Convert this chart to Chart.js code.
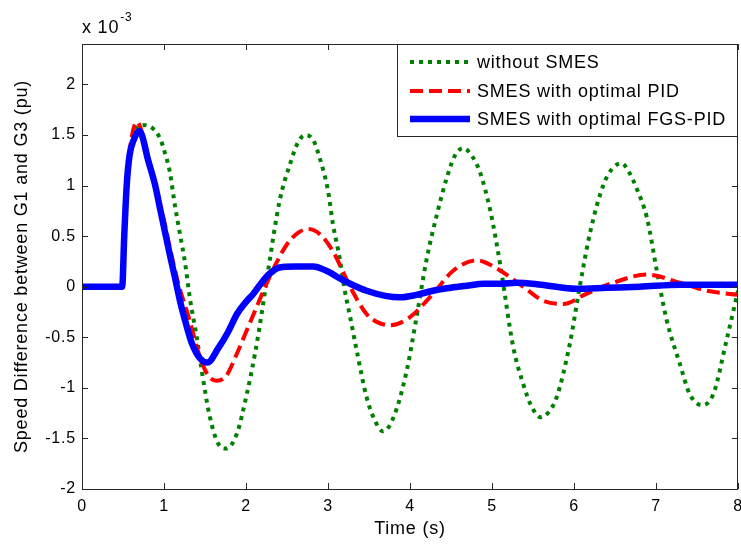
<!DOCTYPE html>
<html>
<head>
<meta charset="utf-8">
<script src="https://cdn.jsdelivr.net/npm/chart.js@4.4.1/dist/chart.umd.min.js"></script>
<style>
  html, body { margin: 0; padding: 0; background: #fff; }
  canvas { display: block; }
</style>
</head>
<body>
<canvas id="c" width="741" height="545"></canvas>
<script>
// Speed difference between G1 and G3 (x 10^-3 pu) after the disturbance

const timeNoSmes = [0, 0.49, 0.52, 0.56, 0.62, 0.72, 0.81, 0.95, 1.016, 1.07, 1.134, 1.195, 1.256, 1.317, 1.40, 1.46, 1.56, 1.66, 1.76, 1.89, 2.01, 2.11, 2.19, 2.27, 2.41, 2.54, 2.63, 2.72, 2.82, 2.90, 3.00, 3.06, 3.15, 3.19, 3.27, 3.35, 3.47, 3.57, 3.67, 3.80, 3.96, 4.08, 4.20, 4.33, 4.45, 4.55, 4.65, 4.75, 4.85, 4.98, 5.10, 5.26, 5.38, 5.48, 5.59, 5.69, 5.79, 5.95, 6.07, 6.20, 6.36, 6.47, 6.58, 6.68, 6.76, 6.89, 7.01, 7.13, 7.29, 7.41, 7.56, 7.70, 7.86, 8.00];
const valNoSmes  = [0, 0, 0.60, 1.15, 1.45, 1.60, 1.59, 1.47, 1.31, 1.14, 0.80, 0.52, 0.24, -0.12, -0.50, -0.83, -1.29, -1.55, -1.60, -1.45, -1.06, -0.66, -0.27, 0.16, 0.85, 1.22, 1.42, 1.50, 1.45, 1.27, 0.95, 0.62, 0.25, 0.03, -0.30, -0.63, -1.09, -1.32, -1.43, -1.29, -0.83, -0.30, 0.26, 0.72, 1.08, 1.30, 1.37, 1.30, 1.14, 0.75, 0.22, -0.60, -0.96, -1.18, -1.29, -1.24, -1.09, -0.56, 0, 0.55, 1.01, 1.17, 1.22, 1.12, 0.98, 0.68, 0.16, -0.33, -0.76, -1.06, -1.17, -1.06, -0.53, -0.04];

const timePid = [0, 0.49, 0.52, 0.56, 0.60, 0.67, 0.77, 0.85, 0.93, 1.01, 1.07, 1.175, 1.30, 1.44, 1.54, 1.64, 1.76, 1.89, 2.01, 2.13, 2.25, 2.38, 2.50, 2.63, 2.76, 2.90, 3.06, 3.27, 3.47, 3.60, 3.76, 4.00, 4.28, 4.53, 4.81, 5.06, 5.38, 5.63, 5.87, 6.15, 6.48, 6.89, 7.29, 7.62, 8.00];
const valPid  = [0, 0, 0.60, 1.15, 1.45, 1.63, 1.41, 1.14, 0.88, 0.62, 0.39, 0.03, -0.30, -0.70, -0.88, -0.93, -0.88, -0.66, -0.43, -0.20, 0.03, 0.25, 0.42, 0.53, 0.57, 0.52, 0.35, 0, -0.27, -0.35, -0.38, -0.30, -0.07, 0.16, 0.26, 0.18, 0, -0.14, -0.17, -0.07, 0.04, 0.12, 0.04, -0.04, -0.08];

const timeFgsPid = [0, 0.49, 0.515, 0.545, 0.58, 0.63, 0.70, 0.81, 0.89, 0.95, 1.01, 1.07, 1.134, 1.195, 1.256, 1.34, 1.44, 1.53, 1.66, 1.78, 1.89, 2.00, 2.09, 2.19, 2.29, 2.41, 2.60, 2.82, 3.00, 3.15, 3.27, 3.47, 3.70, 3.88, 4.08, 4.28, 4.50, 4.69, 4.90, 5.10, 5.30, 5.60, 6.03, 6.40, 6.80, 7.30, 8.00];
const valFgsPid  = [0, 0, 0.50, 1.00, 1.30, 1.45, 1.54, 1.24, 1.01, 0.78, 0.55, 0.32, 0.09, -0.14, -0.33, -0.56, -0.71, -0.75, -0.61, -0.45, -0.27, -0.15, -0.07, 0.04, 0.13, 0.19, 0.20, 0.20, 0.15, 0.08, 0.03, -0.04, -0.09, -0.105, -0.08, -0.04, -0.01, 0.01, 0.03, 0.03, 0.04, 0.02, -0.02, -0.01, 0.0, 0.02, 0.02];

const seriesNames = ['without SMES', 'SMES with optimal PID', 'SMES with optimal FGS-PID'];
const xTickValues = [0, 1, 2, 3, 4, 5, 6, 7, 8];
const yTickValues = [-2, -1.5, -1, -0.5, 0, 0.5, 1, 1.5, 2];
const xTitle = 'Time (s)';
const yTitle = 'Speed Difference between G1 and G3 (pu)';

const FONT = '"Liberation Sans", Arial, sans-serif';
const AXIS_COLOR = '#262626';

function toPoints(ts, vs) {
  return ts.map((t, i) => ({ x: t, y: vs[i] }));
}

const datasets = [
  {
    label: seriesNames[0],
    data: toPoints(timeNoSmes, valNoSmes),
    borderColor: '#008000',
    borderWidth: 4,
    borderDash: [4, 5],
    order: 3
  },
  {
    label: seriesNames[1],
    data: toPoints(timePid, valPid),
    borderColor: '#ff0000',
    borderWidth: 4,
    borderDash: [13, 6],
    order: 2
  },
  {
    label: seriesNames[2],
    data: toPoints(timeFgsPid, valFgsPid),
    borderColor: '#0000ff',
    borderWidth: 6.5,
    borderJoinStyle: 'round',
    borderCapStyle: 'round',
    order: 1
  }
];
datasets.forEach(d => {
  d.pointRadius = 0;
  d.fill = false;
  d.cubicInterpolationMode = 'monotone';
});

// axes box, inward tick marks, exponent note and boxed legend
const axesDecor = {
  id: 'axesDecor',
  beforeUpdate(chart) { chart.ctx.letterSpacing = '0.8px'; },
  beforeDraw(chart) { chart.ctx.letterSpacing = '0.8px'; },
  afterDraw(chart) {
    const ctx = chart.ctx;
    const a = chart.chartArea;
    const sx = chart.scales.x, sy = chart.scales.y;
    ctx.save();
    ctx.strokeStyle = AXIS_COLOR;
    ctx.lineWidth = 1;
    ctx.setLineDash([]);
    ctx.strokeRect(Math.round(a.left) + 0.5, Math.round(a.top) + 0.5,
                   Math.round(a.right - a.left) - 1, Math.round(a.bottom - a.top));
    const tl = 6;
    ctx.beginPath();
    sx.ticks.forEach(t => {
      const px = Math.round(sx.getPixelForValue(t.value)) + 0.5;
      ctx.moveTo(px, a.bottom); ctx.lineTo(px, a.bottom - tl);
      ctx.moveTo(px, a.top); ctx.lineTo(px, a.top + tl);
    });
    sy.ticks.forEach(t => {
      const py = Math.round(sy.getPixelForValue(t.value)) + 0.5;
      ctx.moveTo(a.left, py); ctx.lineTo(a.left + tl, py);
      ctx.moveTo(a.right, py); ctx.lineTo(a.right - tl, py);
    });
    ctx.stroke();

    // exponent note above the y axis
    ctx.fillStyle = '#000';
    ctx.textBaseline = 'alphabetic';
    ctx.textAlign = 'left';
    ctx.font = '18px ' + FONT;
    ctx.fillText('x 10', a.left, 33);
    const w = ctx.measureText('x 10').width;
    ctx.font = '12px ' + FONT;
    ctx.fillText('-3', a.left + w + 1, 21);

    // legend box in the upper right corner
    const lx = 397.5, ly = Math.round(a.top) + 0.5, lw = Math.round(a.right) - 398, lh = 92;
    ctx.fillStyle = '#fff';
    ctx.fillRect(lx, ly, lw, lh);
    ctx.strokeStyle = AXIS_COLOR;
    ctx.lineWidth = 1;
    ctx.strokeRect(lx, ly, lw, lh);
    const rows = [62, 91, 119];
    [0, 1, 2].forEach((i, r) => {
      const ds = chart.data.datasets[i];
      ctx.save();
      ctx.strokeStyle = ds.borderColor;
      ctx.lineWidth = ds.borderWidth;
      ctx.setLineDash(ds.borderDash || []);
      ctx.lineCap = 'butt';
      ctx.beginPath();
      ctx.moveTo(410, rows[r]);
      ctx.lineTo(470, rows[r]);
      ctx.stroke();
      ctx.restore();
      ctx.fillStyle = '#000';
      ctx.font = '18px ' + FONT;
      ctx.textBaseline = 'middle';
      ctx.textAlign = 'left';
      ctx.fillText(ds.label, 477, rows[r] + 1);
    });
    ctx.restore();
  }
};

const fmt = v => String(Math.round(v * 100) / 100);
const noPad = s => { s.paddingLeft = 0; s.paddingRight = 0; s.paddingTop = 0; s.paddingBottom = 0; };

new Chart(document.getElementById('c'), {
  type: 'line',
  data: { datasets },
  options: {
    responsive: false,
    animation: false,
    layout: { padding: { top: 44, right: 3, left: 0, bottom: 0 } },
    plugins: { legend: { display: false }, tooltip: { enabled: false } },
    scales: {
      x: {
        type: 'linear',
        min: 0, max: 8,
        afterFit: s => { s.height = 56; noPad(s); },
        afterBuildTicks: s => { s.ticks = xTickValues.map(v => ({ value: v })); },
        grid: { display: false, drawTicks: false },
        border: { display: false },
        ticks: { color: '#000', padding: 8, font: { family: FONT, size: 16 }, callback: fmt, maxRotation: 0 },
        title: { display: true, text: xTitle, color: '#000', font: { family: FONT, size: 18 }, padding: 5 }
      },
      y: {
        type: 'linear',
        min: -2, max: 2.4,
        afterFit: s => { s.width = 82; noPad(s); },
        afterBuildTicks: s => { s.ticks = yTickValues.map(v => ({ value: v })); },
        grid: { display: false, drawTicks: false },
        border: { display: false },
        ticks: { color: '#000', padding: 6, font: { family: FONT, size: 16 }, callback: fmt },
        title: { display: true, text: yTitle, color: '#000', font: { family: FONT, size: 18 }, padding: 11 }
      }
    }
  },
  plugins: [axesDecor]
});
</script>
</body>
</html>
